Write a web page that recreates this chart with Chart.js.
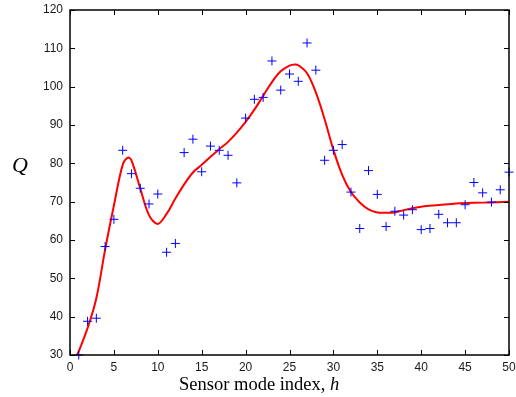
<!DOCTYPE html>
<html>
<head>
<meta charset="utf-8">
<script src="https://cdn.jsdelivr.net/npm/chart.js@4/dist/chart.umd.min.js"></script>
<style>
  html, body { margin: 0; padding: 0; background: #fff; }
  #wrap { width: 516px; height: 397px; }
</style>
</head>
<body>
<div id="wrap"><canvas id="c" width="516" height="397"></canvas></div>
<script>
// Sensor mode index (categories)
const sensorIndex = [1,2,3,4,5,6,7,8,9,10,11,12,13,14,15,16,17,18,19,20,
  21,22,23,24,25,26,27,28,29,30,31,32,33,34,35,36,37,38,39,40,
  41,42,43,44,45,46,47,48,49,50];
// Measured Q (blue crosses)
const measuredQ = [30,38.8,39.6,58.3,65.4,83.4,77.3,73.5,69.4,72.0,
  56.8,59.1,82.8,86.3,77.8,84.5,83.4,82.1,74.9,91.8,
  96.7,97.2,106.7,99.1,103.3,101.4,111.4,104.3,80.8,83.4,
  84.9,72.5,63.0,78.1,71.9,63.5,67.5,66.5,67.9,62.7,
  63.0,66.7,64.5,64.5,69.2,75.0,72.3,69.9,73.1,77.7];
// Fitted curve (red line)
const fitH = [0.8,1,2,3,4,5,6,6.6,7,8,9,10,11,12,13,14,15,16,17,18,19,20,21,22,23,24,25,25.6,26,27,28,29,30,31,32,33,34,35,36,37,38,39,40,42,44,46,48,50];
const fitQ = [30,31,37,44.8,57.5,69,79.6,81.5,80.8,73.5,66.5,64.2,66.8,70.8,74.5,77.6,79.6,81.7,83.7,85.6,88,90.8,94,97.6,101.2,104,105.5,105.8,105.6,103.5,98.5,91.5,83.5,77,72.5,69.8,68,67.2,67.1,67.2,67.8,68.3,68.7,69.1,69.5,69.7,69.8,70];
// Tick labels
const xTicks = [0,5,10,15,20,25,30,35,40,45,50];
const yTicks = [30,40,50,60,70,80,90,100,110,120];

const xTitle = 'Sensor mode index, ';
const xTitleVar = 'h';
const yTitle = 'Q';

const framePlugin = {
  id: 'frame',
  afterDatasetsDraw(chart) {
    const ctx = chart.ctx;
    const a = chart.chartArea;
    const xs = chart.scales.x, ys = chart.scales.y;
    ctx.save();
    ctx.strokeStyle = '#000';
    ctx.lineWidth = 1;
    const tl = 5;
    ctx.beginPath();
    xTicks.forEach(v => {
      const px = Math.round(xs.getPixelForValue(v)) + 0.5;
      ctx.moveTo(px, a.bottom); ctx.lineTo(px, a.bottom - tl);
      ctx.moveTo(px, a.top); ctx.lineTo(px, a.top + tl);
    });
    yTicks.forEach(v => {
      const py = Math.round(ys.getPixelForValue(v)) + 0.5;
      ctx.moveTo(a.left, py); ctx.lineTo(a.left + tl, py);
      ctx.moveTo(a.right, py); ctx.lineTo(a.right - tl, py);
    });
    ctx.stroke();
    ctx.lineWidth = 1.5;
    ctx.strokeRect(a.left, a.top, a.right - a.left, a.bottom - a.top);
    ctx.restore();
  },
  afterDraw(chart) {
    const ctx = chart.ctx;
    ctx.save();
    ctx.fillStyle = '#000';
    ctx.textBaseline = 'alphabetic';
    ctx.textAlign = 'left';
    ctx.font = '18.5px "Liberation Serif", "Times New Roman", serif';
    const w1 = ctx.measureText(xTitle).width;
    ctx.fillText(xTitle, 179, 390);
    ctx.font = 'italic 18.5px "Liberation Serif", "Times New Roman", serif';
    ctx.fillText(xTitleVar, 179 + w1, 390);
    ctx.font = 'italic 22px "Liberation Serif", "Times New Roman", serif';
    ctx.textAlign = 'center';
    ctx.fillText(yTitle, 20, 172);
    ctx.restore();
  }
};

const tickFont = { family: '"Liberation Sans", Arial, sans-serif', size: 12 };

new Chart(document.getElementById('c'), {
  type: 'scatter',
  data: {
    datasets: [
      {
        label: 'Measured',
        data: sensorIndex.map((h, i) => ({ x: h, y: measuredQ[i] })),
        pointStyle: 'cross',
        pointRadius: 4.5,
        pointHoverRadius: 4.5,
        borderColor: '#0000ff',
        backgroundColor: '#0000ff',
        pointBorderColor: '#0000ff',
        pointBackgroundColor: '#0000ff',
        pointHoverBorderColor: '#0000ff',
        pointHoverBackgroundColor: '#0000ff',
        pointHoverBorderWidth: 1,
        borderWidth: 1,
        showLine: false,
        clip: false,
        order: 0
      },
      {
        label: 'Fit',
        type: 'line',
        data: fitH.map((h, i) => ({ x: h, y: fitQ[i] })),
        borderColor: '#ff0000',
        borderWidth: 2,
        pointRadius: 0,
        fill: false,
        tension: 0.35,
        clip: false,
        order: 1
      }
    ]
  },
  options: {
    responsive: false,
    animation: false,
    events: [],
    devicePixelRatio: 1,
    layout: { padding: { left: 0, top: 10, right: 7, bottom: 0 } },
    plugins: { legend: { display: false }, tooltip: { enabled: false } },
    scales: {
      x: {
        type: 'linear',
        min: 0, max: 50,
        afterBuildTicks: s => { s.ticks = xTicks.map(v => ({ value: v })); },
        afterFit: s => { s.height = 42; s.paddingLeft = 0; s.paddingRight = 0; },
        grid: { display: false, drawTicks: false },
        border: { display: false },
        ticks: { font: tickFont, color: '#1a1a1a', padding: 5, maxRotation: 0, autoSkip: false }
      },
      y: {
        type: 'linear',
        min: 30, max: 120,
        afterBuildTicks: s => { s.ticks = yTicks.map(v => ({ value: v })); },
        afterFit: s => { s.width = 70; s.paddingTop = 0; s.paddingBottom = 0; },
        grid: { display: false, drawTicks: false },
        border: { display: false },
        ticks: { font: tickFont, color: '#1a1a1a', padding: 7, autoSkip: false }
      }
    }
  },
  plugins: [framePlugin]
});
</script>
</body>
</html>
